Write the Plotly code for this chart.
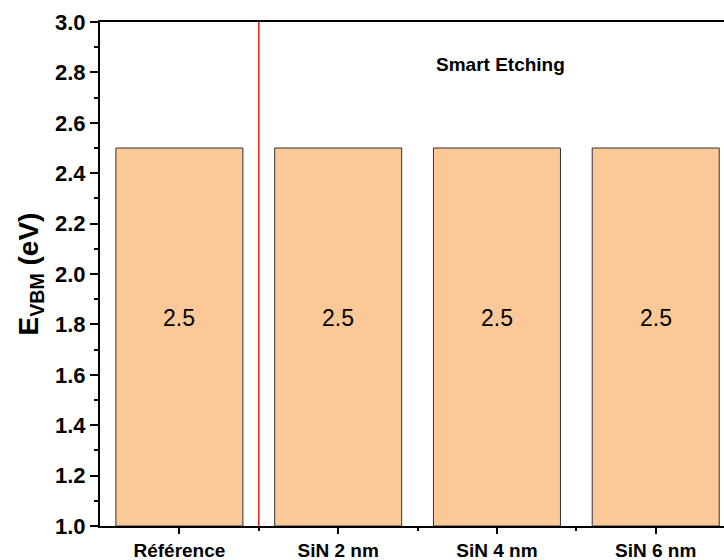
import plotly.graph_objects as go

categories = ["Référence", "SiN 2 nm", "SiN 4 nm", "SiN 6 nm"]
values = [2.5, 2.5, 2.5, 2.5]
value_labels = ["2.5", "2.5", "2.5", "2.5"]
y_base = 1.0
y_ticks = [1.0, 1.2, 1.4, 1.6, 1.8, 2.0, 2.2, 2.4, 2.6, 2.8, 3.0]
group_label = "Smart Etching"

FONT = "Arial, Liberation Sans, sans-serif"
xpos = list(range(len(categories)))

fig = go.Figure()
fig.add_trace(go.Bar(
    x=xpos,
    y=[v - y_base for v in values],
    base=y_base,
    width=0.8,
    marker=dict(color="#FBC898", line=dict(color="#333333", width=1)),
    hoverinfo="skip",
))

for xi, v, lab in zip(xpos, values, value_labels):
    fig.add_annotation(x=xi, y=(y_base + v) / 2, text=lab, showarrow=False,
                       yshift=19, font=dict(family=FONT, size=23, color="black"))

fig.add_annotation(x=2.02, y=2.83, text="<b>" + group_label + "</b>", showarrow=False,
                   font=dict(family=FONT, size=19, color="black"))

fig.add_shape(type="line", x0=0.5, x1=0.5, y0=0, y1=1, xref="x", yref="paper",
              line=dict(color="#E0201B", width=1.5))

fig.update_layout(
    width=724, height=560,
    margin=dict(l=100, r=0, t=22, b=34),
    plot_bgcolor="white", paper_bgcolor="white",
    showlegend=False,
    xaxis=dict(
        range=[-0.5, 3.43],
        tickmode="array", tickvals=xpos,
        ticktext=["<b>" + c + "</b>" for c in categories],
        tickfont=dict(family=FONT, size=19, color="black"),
        showline=True, linecolor="black", linewidth=2, mirror=True,
        ticks="outside", ticklen=6, tickwidth=1.5, tickcolor="black",
        minor=dict(tickvals=[0.5, 1.5, 2.5], ticks="outside", ticklen=3, tickwidth=1.5, tickcolor="black"),
        showgrid=False, zeroline=False,
    ),
    yaxis=dict(
        range=[1.0, 3.0],
        tickmode="array", tickvals=y_ticks,
        ticktext=["<b>%.1f</b>" % t for t in y_ticks],
        tickfont=dict(family=FONT, size=22, color="black"),
        showline=True, linecolor="black", linewidth=2,
        ticks="outside", ticklen=8, tickwidth=1.5, tickcolor="black",
        minor=dict(dtick=0.1, ticks="outside", ticklen=4, tickwidth=1.5, tickcolor="black"),
        showgrid=False, zeroline=False,
        title=dict(text="<b>E<sub>VBM</sub> (eV)</b>", font=dict(family=FONT, size=28, color="black"), standoff=8),
    ),
)

fig.write_html("out.html", config={"displayModeBar": False},
               post_script="document.body.style.margin='0px';document.body.style.overflow='hidden';document.documentElement.style.overflow='hidden';")
